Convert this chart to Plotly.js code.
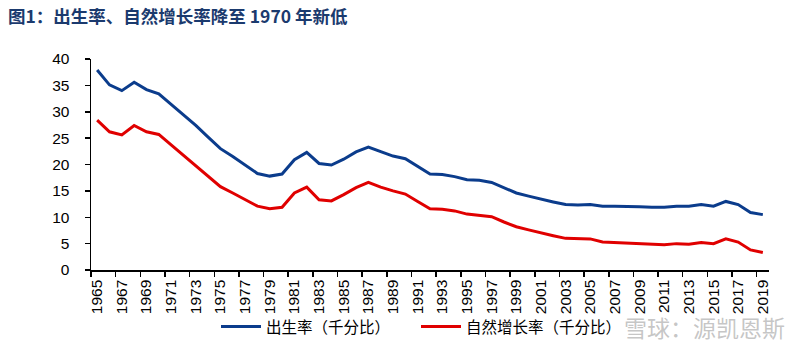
<!DOCTYPE html>
<html>
<head>
<meta charset="utf-8">
<script src="https://cdn.plot.ly/plotly-3.0.1.min.js"></script>
<style>html,body{margin:0;padding:0;background:#fff;}#chart{width:800px;height:354px;}</style>
</head>
<body>
<div id="chart"></div>
<script>
// Years 1965-2019
var years = [];
for (var y = 1965; y <= 2019; y++) years.push(y);

// 出生率（千分比）
var birthRate = [37.9, 35.1, 34.0, 35.6, 34.2, 33.4, 31.4, 29.4, 27.4, 25.2,
                 23.0, 21.5, 19.9, 18.3, 17.8, 18.2, 20.9, 22.3, 20.2, 19.9,
                 21.0, 22.4, 23.3, 22.4, 21.6, 21.1, 19.7, 18.2, 18.1, 17.7,
                 17.1, 17.0, 16.6, 15.6, 14.6, 14.0, 13.4, 12.9, 12.4, 12.3,
                 12.4, 12.1, 12.1, 12.1, 12.0, 11.9, 11.9, 12.1, 12.1, 12.4,
                 12.1, 13.0, 12.4, 10.9, 10.5];

// 自然增长率（千分比）
var growthRate = [28.4, 26.2, 25.6, 27.4, 26.2, 25.7, 23.7, 21.7, 19.8, 17.8,
                  15.8, 14.6, 13.4, 12.1, 11.6, 11.9, 14.6, 15.7, 13.3, 13.1,
                  14.3, 15.6, 16.6, 15.7, 15.0, 14.4, 13.0, 11.6, 11.5, 11.2,
                  10.6, 10.4, 10.1, 9.1, 8.2, 7.6, 7.0, 6.5, 6.0, 5.9,
                  5.9, 5.3, 5.2, 5.1, 4.9, 4.8, 4.8, 5.0, 4.9, 5.2,
                  5.0, 5.9, 5.3, 3.8, 3.3];

var tickYears = [];
for (var t = 1965; t <= 2019; t += 2) tickYears.push(t);
var tickText = tickYears.map(String);

var seriesNames = ['出生率（千分比）', '自然增长率（千分比）'];
var titleText = '图1：出生率、自然增长率降至 1970 年新低';
var watermark = '雪球：源凯恩斯';

var fontFam = 'Liberation Sans, Arial, "Noto Sans CJK SC", sans-serif';

var traces = [
  {x: years, y: birthRate, name: seriesNames[0], type: 'scatter', mode: 'lines',
   line: {color: '#0B3C8C', width: 3}},
  {x: years, y: growthRate, name: seriesNames[1], type: 'scatter', mode: 'lines',
   line: {color: '#E00000', width: 3}}
];

var layout = {
  width: 800, height: 354,
  margin: {l: 91, r: 31, t: 59, b: 84},
  paper_bgcolor: '#ffffff', plot_bgcolor: '#ffffff',
  font: {family: fontFam, color: '#000000', size: 15},
  title: {
    text: '<b>' + titleText + '</b>',
    x: 8/800, xanchor: 'left', xref: 'container',
    y: 1 - 17/354, yanchor: 'middle', yref: 'container',
    font: {family: '"Noto Sans CJK SC", Liberation Sans, sans-serif', size: 17.5, color: '#1B3A6E'}
  },
  xaxis: {
    type: 'linear', range: [1964.5, 2019.5],
    tickmode: 'array', tickvals: tickYears, ticktext: tickText,
    tickangle: -90, ticks: '', showgrid: false, zeroline: false,
    showline: true, linecolor: '#000000', linewidth: 1.5,
    tickfont: {size: 15.5, family: fontFam},
    ticklabelstandoff: 2,
    minor: {tickmode: 'linear', tick0: 1964.5, dtick: 2, ticks: 'outside', ticklen: 5,
            tickcolor: '#000000', tickwidth: 1.5, showgrid: false}
  },
  yaxis: {
    range: [0, 40], tickmode: 'linear', tick0: 0, dtick: 5,
    ticks: 'outside', ticklen: 5, tickcolor: '#000000', tickwidth: 1.5,
    showgrid: false, zeroline: false,
    showline: true, linecolor: '#000000', linewidth: 1.5,
    tickfont: {size: 15.5, family: fontFam},
    ticklabelstandoff: 12
  },
  showlegend: true,
  legend: {
    orientation: 'h', xref: 'container', yref: 'container',
    x: 216/800, xanchor: 'left', y: 1 - 327/354, yanchor: 'middle',
    font: {size: 15.5, family: '"Noto Sans CJK SC", sans-serif', color: '#000000'},
    itemwidth: 40, entrywidth: 145, entrywidthmode: 'pixels',
    tracegroupgap: 0, bgcolor: 'rgba(0,0,0,0)'
  },
  annotations: [{
    text: watermark, xref: 'paper', yref: 'paper', showarrow: false,
    x: (787 - 91) / 678, xanchor: 'right',
    y: (270 - 327) / 211, yanchor: 'middle',
    font: {size: 23, color: 'rgba(160,160,160,0.6)', family: '"Noto Sans CJK SC", sans-serif'}
  }]
};

Plotly.newPlot('chart', traces, layout, {displayModeBar: false, staticPlot: true});
</script>
</body>
</html>
